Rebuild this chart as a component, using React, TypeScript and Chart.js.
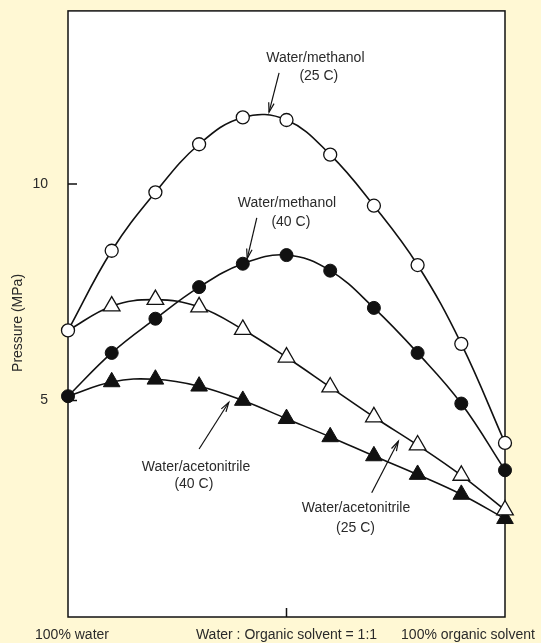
import React, { useEffect, useRef } from 'react';
import { Chart, registerables } from 'chart.js';

Chart.register(...registerables);

// ---- data ----
const xValues = [0, 10, 20, 30, 40, 50, 60, 70, 80, 90, 100];
const methanol25 = [6.62, 8.46, 9.81, 10.92, 11.54, 11.48, 10.68, 9.5, 8.13, 6.31, 4.02];
const methanol40 = [5.1, 6.1, 6.89, 7.62, 8.16, 8.36, 8.0, 7.14, 6.1, 4.93, 3.39];
const acetonitrile25 = [6.62, 7.18, 7.33, 7.16, 6.64, 6.0, 5.31, 4.62, 3.97, 3.27, 2.47];
const acetonitrile40 = [5.1, 5.43, 5.49, 5.33, 5.0, 4.58, 4.16, 3.72, 3.29, 2.83, 2.27];
const yTicks = [5, 10];
const xTicks = [50];
const xAxisLabels = ['100% water', 'Water : Organic solvent = 1:1', '100% organic solvent'];
const yAxisTitle = 'Pressure (MPa)';
const seriesLabels = [
  ['Water/methanol', '(25 C)'],
  ['Water/methanol', '(40 C)'],
  ['Water/acetonitrile', '(25 C)'],
  ['Water/acetonitrile', '(40 C)'],
];

const FONT = '"Liberation Sans", Arial, Helvetica, sans-serif';
const BG = '#fff8d4';
const INK = '#111';
const TEXT = '#2a2a2a';

function arrow(ctx: CanvasRenderingContext2D, x1: number, y1: number, x2: number, y2: number) {
  ctx.beginPath();
  ctx.moveTo(x1, y1);
  ctx.lineTo(x2, y2);
  ctx.stroke();
  const ang = Math.atan2(y2 - y1, x2 - x1);
  const len = 10;
  const spread = 0.28;
  ctx.beginPath();
  ctx.moveTo(x2 - len * Math.cos(ang - spread), y2 - len * Math.sin(ang - spread));
  ctx.lineTo(x2, y2);
  ctx.lineTo(x2 - len * Math.cos(ang + spread), y2 - len * Math.sin(ang + spread));
  ctx.stroke();
}

const decorPlugin = {
  id: 'decor',
  beforeDraw(chart: any) {
    const { ctx, chartArea: a, width, height } = chart;
    ctx.save();
    ctx.fillStyle = BG;
    ctx.fillRect(0, 0, width, height);
    ctx.fillStyle = '#ffffff';
    ctx.fillRect(a.left, a.top, a.right - a.left, a.bottom - a.top);
    ctx.restore();
  },
  beforeDatasetsDraw(chart: any) {
    const { ctx, chartArea: a, scales } = chart;
    ctx.save();
    ctx.strokeStyle = INK;
    ctx.lineWidth = 1.5;
    ctx.strokeRect(a.left, a.top, a.right - a.left, a.bottom - a.top);
    // inward ticks
    ctx.beginPath();
    yTicks.forEach((v) => {
      const y = scales.y.getPixelForValue(v);
      ctx.moveTo(a.left, y);
      ctx.lineTo(a.left + 9, y);
    });
    xTicks.forEach((v) => {
      const x = scales.x.getPixelForValue(v);
      ctx.moveTo(x, a.bottom);
      ctx.lineTo(x, a.bottom - 9);
    });
    ctx.stroke();
    ctx.restore();
  },
  afterDatasetsDraw(chart: any) {
    const { ctx, chartArea: a, scales } = chart;
    const px = (v: number) => scales.x.getPixelForValue(v);
    const py = (v: number) => scales.y.getPixelForValue(v);
    ctx.save();
    ctx.fillStyle = TEXT;
    ctx.font = `14px ${FONT}`;
    ctx.textAlign = 'center';
    ctx.textBaseline = 'middle';

    // series annotations (positions in data units)
    const notes = [
      { l1: [56.6, 12.9], l2: [57.4, 12.49], a: [48.3, 12.57, 46.0, 11.66] },
      { l1: [50.1, 9.55], l2: [51.0, 9.11], a: [43.2, 9.22, 41.0, 8.28] },
      { l1: [65.9, 2.51], l2: [65.8, 2.05], a: [69.5, 2.87, 75.6, 4.06] },
      { l1: [29.3, 3.47], l2: [28.8, 3.06], a: [30.0, 3.88, 36.8, 4.96] },
    ];
    notes.forEach((n, i) => {
      ctx.fillText(seriesLabels[i][0], px(n.l1[0]), py(n.l1[1]));
      ctx.fillText(seriesLabels[i][1], px(n.l2[0]), py(n.l2[1]));
    });
    ctx.strokeStyle = INK;
    ctx.lineWidth = 1.2;
    notes.forEach((n) => {
      arrow(ctx, px(n.a[0]), py(n.a[1]), px(n.a[2]), py(n.a[3]));
    });

    // bottom category labels
    const by = a.bottom + 18;
    ctx.fillText(xAxisLabels[0], px(0) + 4, by);
    ctx.fillText(xAxisLabels[1], px(50), by);
    ctx.fillText(xAxisLabels[2], px(100) - 37, by);

    // y axis title
    ctx.save();
    ctx.translate(18, (a.top + a.bottom) / 2 + 9);
    ctx.rotate(-Math.PI / 2);
    ctx.fillText(yAxisTitle, 0, 0);
    ctx.restore();

    ctx.restore();
  },
};

function makeData(values: number[]) {
  return values.map((v, i) => ({ x: xValues[i], y: v }));
}

export default function App() {
  const canvasRef = useRef<HTMLCanvasElement>(null);

  useEffect(() => {
    document.body.style.margin = '0';
    document.body.style.background = BG;
    const canvas = canvasRef.current;
    if (!canvas) return;
    const triRadius = (ctx: any) => (ctx.dataIndex === 0 ? 0 : 9.6);
    const chart = new Chart(canvas, {
      type: 'line',
      data: {
        datasets: [
          {
            label: 'Water/methanol (25 C)',
            data: makeData(methanol25),
            borderColor: INK,
            borderWidth: 1.6,
            tension: 0.4,
            pointStyle: 'circle',
            pointRadius: 6.5,
            pointBackgroundColor: '#ffffff',
            pointBorderColor: INK,
            pointBorderWidth: 1.3,
            clip: false,
          },
          {
            label: 'Water/methanol (40 C)',
            data: makeData(methanol40),
            borderColor: INK,
            borderWidth: 1.6,
            tension: 0.4,
            pointStyle: 'circle',
            pointRadius: 6.5,
            pointBackgroundColor: INK,
            pointBorderColor: INK,
            pointBorderWidth: 1,
            clip: false,
          },
          {
            label: 'Water/acetonitrile (25 C)',
            data: makeData(acetonitrile25),
            borderColor: INK,
            borderWidth: 1.6,
            tension: 0.4,
            pointStyle: 'triangle',
            pointRadius: triRadius,
            pointBackgroundColor: '#ffffff',
            pointBorderColor: INK,
            pointBorderWidth: 1.3,
            clip: false,
          },
          {
            label: 'Water/acetonitrile (40 C)',
            data: makeData(acetonitrile40),
            borderColor: INK,
            borderWidth: 1.6,
            tension: 0.4,
            pointStyle: 'triangle',
            pointRadius: triRadius,
            pointBackgroundColor: INK,
            pointBorderColor: INK,
            pointBorderWidth: 1,
            clip: false,
          },
        ],
      },
      options: {
        responsive: false,
        animation: false,
        events: [],
        layout: { padding: { top: 10, right: 36, bottom: 26, left: 0 } },
        plugins: {
          legend: { display: false },
          tooltip: { enabled: false },
          title: { display: false },
        },
        scales: {
          x: { type: 'linear', min: 0, max: 100, display: false },
          y: {
            type: 'linear',
            min: 0,
            max: 14,
            afterBuildTicks: (s: any) => {
              s.ticks = yTicks.map((v) => ({ value: v }));
            },
            afterFit: (s: any) => {
              s.width = 68;
            },
            grid: { display: false, drawTicks: true, tickLength: 20 },
            border: { display: false },
            ticks: {
              padding: 0,
              color: TEXT,
              font: { family: FONT, size: 14 },
            },
          },
        },
      },
      plugins: [decorPlugin],
    } as any);
    return () => chart.destroy();
  }, []);

  return <canvas ref={canvasRef} width={541} height={643} style={{ display: 'block' }} />;
}
